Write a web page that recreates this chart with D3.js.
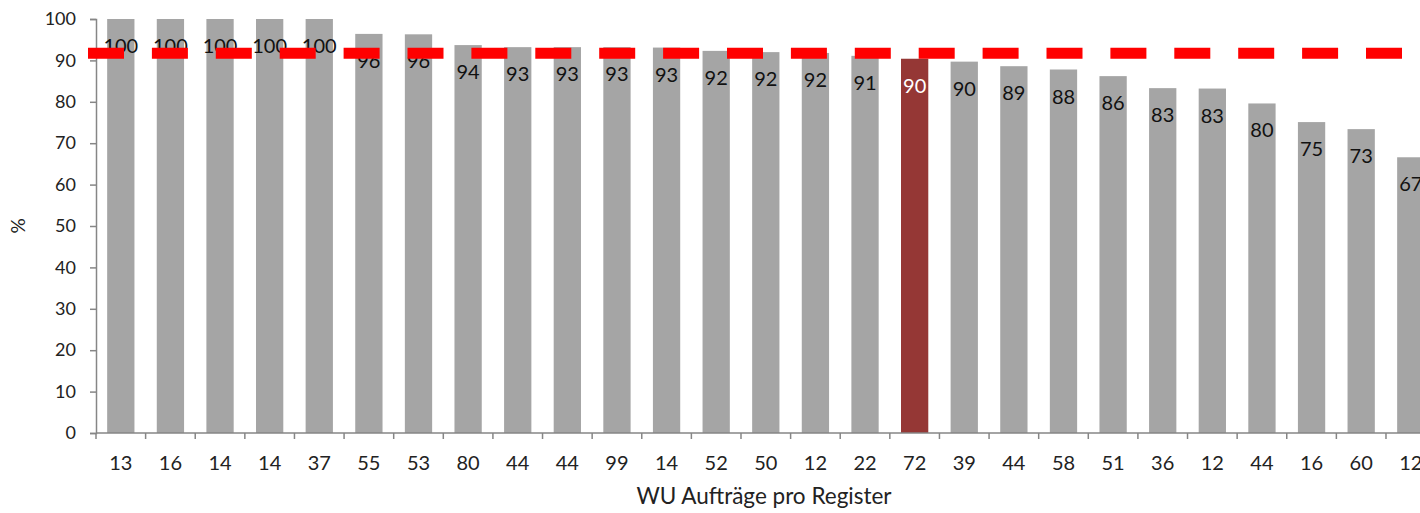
<!DOCTYPE html>
<html>
<head>
<meta charset="utf-8">
<script src="https://cdn.jsdelivr.net/npm/d3@7"></script>
<style>
  html, body { margin: 0; padding: 0; background: #fff; }
  svg { display: block; font-family: Lato, "Liberation Sans", sans-serif; }
</style>
</head>
<body>
<div id="chart"></div>
<script>
// WU Aufträge pro Register (x labels) and share in %
var categories = ["13","16","14","14","37","55","53","80","44","44","99","14","52","50","12","22","72","39","44","58","51","36","12","44","16","60","12"];
var values = [100,100,100,100,100,96.4,96.3,93.7,93.2,93.2,93.2,93.1,92.3,92.0,91.8,91.1,90.4,89.7,88.6,87.8,86.2,83.3,83.2,79.6,75.1,73.4,66.6];
var highlight = 16; // index of the dark red bar
var target = 91.7;
var yTicks = [0,10,20,30,40,50,60,70,80,90,100];

var width = 1420, height = 513;
var margin = {top: 19, left: 96, bottom: 80};
var plotRight = 1435.6;

var svg = d3.select("#chart").append("svg")
    .attr("width", width)
    .attr("height", height);

var x = d3.scaleBand()
    .domain(d3.range(categories.length))
    .range([margin.left, plotRight])
    .paddingInner(0.45)
    .paddingOuter(0.225);

var y = d3.scaleLinear()
    .domain([0, 100])
    .range([height - margin.bottom, margin.top]);

var axisColor = "#868686";

// bars
svg.append("g").selectAll("rect")
    .data(values)
    .enter().append("rect")
    .attr("x", (d, i) => x(i))
    .attr("width", x.bandwidth())
    .attr("y", d => y(d))
    .attr("height", d => y(0) - y(d))
    .attr("fill", (d, i) => i === highlight ? "#953735" : "#a5a5a5");

// value labels inside bars
svg.append("g").selectAll("text")
    .data(values)
    .enter().append("text")
    .attr("x", (d, i) => x(i) + x.bandwidth() / 2)
    .attr("y", d => y(d) + 34)
    .attr("text-anchor", "middle")
    .attr("font-size", "20px")
    .attr("fill", (d, i) => i === highlight ? "#ffffff" : "#111")
    .text(d => Math.round(d));

// y axis
var yAxis = svg.append("g")
    .attr("transform", "translate(" + margin.left + ",0)")
    .call(d3.axisLeft(y).tickValues(yTicks).tickSize(6).tickPadding(14));
yAxis.select(".domain").attr("stroke", axisColor).attr("stroke-width", 1.5);
yAxis.selectAll(".tick line").attr("stroke", axisColor).attr("stroke-width", 1.5);
yAxis.selectAll(".tick text").attr("font-size", "18px").attr("fill", "#222")
    .attr("font-family", "Lato, sans-serif");

// x axis: ticks between categories
var step = x.step();
var boundaries = d3.range(categories.length + 1).map(i => x.range()[0] + i * step);
var xg = svg.append("g");
xg.append("line")
    .attr("x1", margin.left).attr("x2", width)
    .attr("y1", y(0)).attr("y2", y(0))
    .attr("stroke", axisColor).attr("stroke-width", 1.5);
xg.selectAll("line.tick")
    .data(boundaries)
    .enter().append("line")
    .attr("class", "tick")
    .attr("x1", d => d).attr("x2", d => d)
    .attr("y1", y(0)).attr("y2", y(0) + 6)
    .attr("stroke", axisColor).attr("stroke-width", 1.5);
xg.selectAll("text")
    .data(categories)
    .enter().append("text")
    .attr("x", (d, i) => x(i) + x.bandwidth() / 2)
    .attr("y", y(0) + 37)
    .attr("text-anchor", "middle")
    .attr("font-size", "20px")
    .attr("fill", "#222")
    .text(d => d);

// target dashed line
svg.append("line")
    .attr("x1", margin.left - 8).attr("x2", width)
    .attr("y1", y(target)).attr("y2", y(target))
    .attr("stroke", "#ff0000")
    .attr("stroke-width", 11)
    .attr("stroke-dasharray", "36,27.9");

// axis titles
svg.append("text")
    .attr("x", 764)
    .attr("y", 504)
    .attr("text-anchor", "middle")
    .attr("font-size", "22.5px")
    .attr("fill", "#222")
    .text("WU Aufträge pro Register");

svg.append("text")
    .attr("transform", "translate(25," + y(50) + ") rotate(-90)")
    .attr("text-anchor", "middle")
    .attr("font-size", "19px")
    .attr("fill", "#222")
    .text("%");
</script>
</body>
</html>
